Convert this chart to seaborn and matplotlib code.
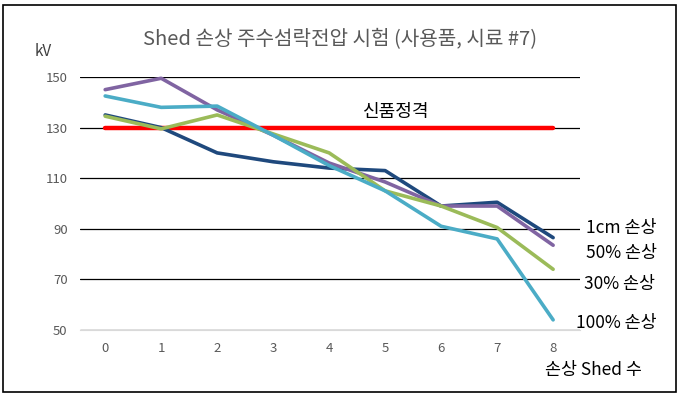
import matplotlib
matplotlib.use('Agg')
import matplotlib.pyplot as plt
import seaborn as sns
import pandas as pd
from matplotlib.patches import Rectangle

# data
shed_count = [0, 1, 2, 3, 4, 5, 6, 7, 8]
damage_1cm = [135, 130, 120, 116.5, 114, 113, 99, 100.5, 86.5]
damage_50 = [145, 149.5, 137, 127, 116, 108.5, 99, 99, 83.5]
damage_30 = [134.5, 129.5, 135, 127.5, 120, 105, 99, 90.5, 74]
damage_100 = [142.5, 138, 138.5, 127, 115, 105, 91, 86, 54]
new_rating = 130
series_names = ['1cm 손상', '50% 손상', '30% 손상', '100% 손상']
series_colors = ['#1F497D', '#8064A2', '#9BBB59', '#4BACC6']
y_ticks = [50, 70, 90, 110, 130, 150]

sns.set_style('white')
plt.rcParams['font.family'] = ['Noto Sans CJK KR', 'DejaVu Sans']

rows = []
for name, vals in zip(series_names, [damage_1cm, damage_50, damage_30, damage_100]):
    for x, v in zip(shed_count, vals):
        rows.append({'shed': x, 'kv': v, 'series': name})
df = pd.DataFrame(rows)

fig = plt.figure(figsize=(6.82, 3.96), dpi=100)
ax = fig.add_axes([80 / 682, 1 - 330 / 396, 500 / 682, 253 / 396])

# rated line
sns.lineplot(x=shed_count, y=[new_rating] * len(shed_count), color='#FF0000',
             linewidth=3.2, ax=ax, zorder=2)
# drawing order: navy, purple, green, cyan
sns.lineplot(data=df, x='shed', y='kv', hue='series', hue_order=series_names,
             palette=dict(zip(series_names, series_colors)), linewidth=2.6,
             legend=False, ax=ax, zorder=3)
for line in ax.lines:
    line.set_clip_on(False)

ax.set_xlim(-0.45, 8.48)
ax.set_ylim(50, 150)
ax.set_yticks(y_ticks)
ax.set_xticks(shed_count)
ax.grid(axis='y', color='black', linewidth=0.9)
ax.set_axisbelow(True)
for s in ['top', 'right', 'left']:
    ax.spines[s].set_visible(False)
ax.spines['bottom'].set_color('#D9D9D9')
ax.tick_params(axis='both', length=0, labelsize=9.5, labelcolor='#595959')
ax.tick_params(axis='y', pad=9)
ax.tick_params(axis='x', pad=9)
ax.set_xlabel('')
ax.set_ylabel('')

# title and axis text
fig.text(340 / 682, 1 - 40 / 396, 'Shed 손상 주수섬락전압 시험 (사용품, 시료 #7)',
         ha='center', va='center', fontsize=14.5, color='#595959')
fig.text(43 / 682, 1 - 52 / 396, 'kV', ha='center', va='center', fontsize=11, color='#404040')
fig.text(593 / 682, 1 - 370 / 396, '손상 Shed 수', ha='center', va='center', fontsize=12.5, color='black')
ax.text(5.2, 136, '신품정격', ha='center', va='center', fontsize=13, color='black')

# series labels at the right end
label_pos = [(621, 228), (621, 253), (620, 284), (616, 323)]
for name, (px, py) in zip(series_names, label_pos):
    fig.text(px / 682, 1 - py / 396, name, ha='center', va='center', fontsize=12.5, color='black')

# outer border
fig.patches.append(Rectangle((3 / 682, 4 / 396), 673 / 682, 387 / 396, transform=fig.transFigure,
                             fill=False, edgecolor='black', linewidth=1.2))

fig.savefig('out.png', dpi=100)
